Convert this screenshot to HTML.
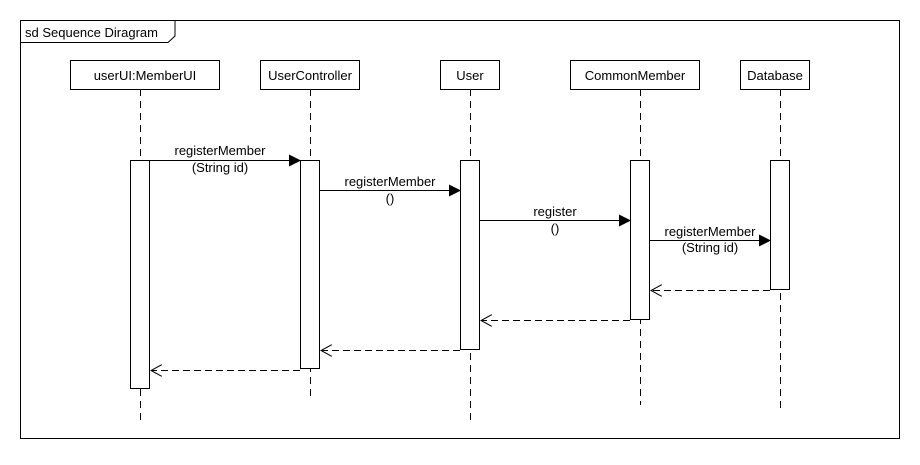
<!DOCTYPE html>
<html><head><style>
html,body{margin:0;padding:0;background:#fff;}
svg text{font-family:"Liberation Sans",sans-serif;font-size:13px;fill:#000;}
</style></head><body>
<svg width="920" height="460" xmlns="http://www.w3.org/2000/svg">
<defs>
<marker id="f" markerWidth="12" markerHeight="12" refX="11" refY="6" orient="auto" markerUnits="userSpaceOnUse"><path d="M0,0 L12,6 L0,12 z" fill="#000"/></marker>
<marker id="o" markerWidth="12" markerHeight="12" refX="11" refY="6" orient="auto" markerUnits="userSpaceOnUse"><path d="M0,0 L11,6 L0,12" fill="none" stroke="#000"/></marker>
</defs>
<rect x="20.5" y="20.5" width="879" height="418" fill="none" stroke="#000"/>
<path d="M20.5,42.5 H168 L175,36 V20.5" fill="none" stroke="#000"/>
<text x="25" y="37">sd Sequence Diragram</text>
<g stroke="#000" stroke-dasharray="7,5" fill="none">
<line x1="140.5" y1="89" x2="140.5" y2="420"/>
<line x1="310.5" y1="89" x2="310.5" y2="400"/>
<line x1="470.5" y1="89" x2="470.5" y2="420"/>
<line x1="640.5" y1="89" x2="640.5" y2="405"/>
<line x1="780.5" y1="89" x2="780.5" y2="410"/>
</g>
<g fill="#fff" stroke="#000">
<rect x="70.5" y="60.5" width="149" height="29"/>
<rect x="260.5" y="60.5" width="99" height="29"/>
<rect x="440.5" y="60.5" width="59" height="29"/>
<rect x="570.5" y="60.5" width="129" height="29"/>
<rect x="740.5" y="60.5" width="69" height="29"/>
<rect x="130.5" y="160.5" width="19" height="228"/>
<rect x="300.5" y="160.5" width="19" height="208"/>
<rect x="460.5" y="160.5" width="19" height="189"/>
<rect x="630.5" y="160.5" width="19" height="159"/>
<rect x="770.5" y="160.5" width="19" height="129"/>
</g>
<g text-anchor="middle">
<text x="145" y="80">userUI:MemberUI</text>
<text x="310" y="80">UserController</text>
<text x="470" y="80">User</text>
<text x="635" y="80">CommonMember</text>
<text x="775" y="80">Database</text>
<text x="220" y="155">registerMember</text>
<text x="220" y="172">(String id)</text>
<text x="390" y="186">registerMember</text>
<text x="390" y="203">()</text>
<text x="555" y="216">register</text>
<text x="555" y="233">()</text>
<text x="710" y="236">registerMember</text>
<text x="710" y="252">(String id)</text>
</g>
<g stroke="#000" fill="none">
<line x1="150" y1="160.5" x2="300" y2="160.5" marker-end="url(#f)"/>
<line x1="320" y1="190.5" x2="460" y2="190.5" marker-end="url(#f)"/>
<line x1="480" y1="220.5" x2="630" y2="220.5" marker-end="url(#f)"/>
<line x1="650" y1="240.5" x2="770" y2="240.5" marker-end="url(#f)"/>
<g stroke-dasharray="7,4">
<line x1="770" y1="290.5" x2="651" y2="290.5" marker-end="url(#o)"/>
<line x1="630" y1="320.5" x2="481" y2="320.5" marker-end="url(#o)"/>
<line x1="460" y1="350.5" x2="321" y2="350.5" marker-end="url(#o)"/>
<line x1="300" y1="370.5" x2="151" y2="370.5" marker-end="url(#o)"/>
</g>
</g>
</svg>
</body></html>
